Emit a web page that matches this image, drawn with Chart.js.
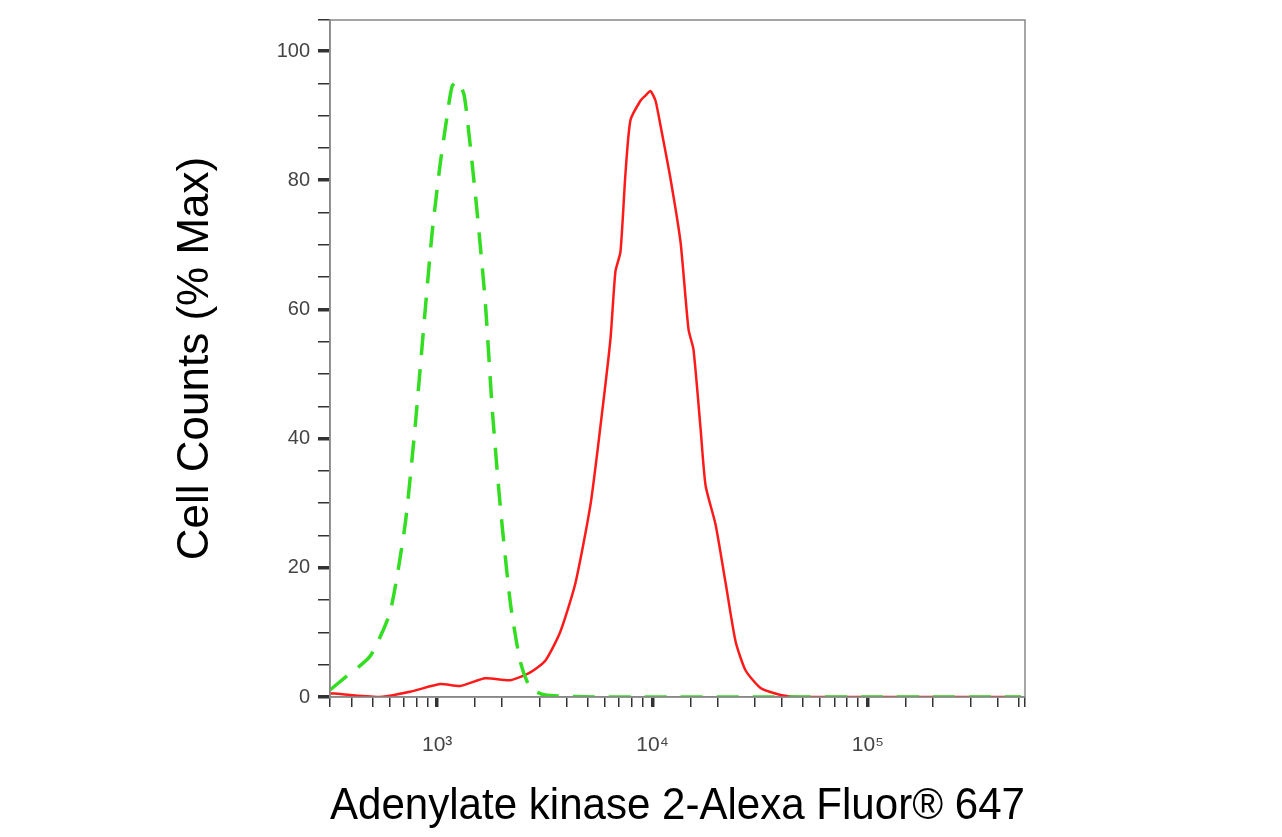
<!DOCTYPE html>
<html>
<head>
<meta charset="utf-8">
<script src="https://cdn.jsdelivr.net/npm/chart.js@4"></script>
<style>
  html, body { margin: 0; padding: 0; background: #fff; }
  #wrap { width: 1282px; height: 837px; }
</style>
</head>
<body>
<div id="wrap"><canvas id="histChart"></canvas></div>
<script>
// Fluorescence intensity (x) and % max counts (y)
const redX = [318, 394, 543, 748, 1033, 1280, 1672, 2187, 2708, 3178, 3733, 4385, 5150, 5728, 6380, 6730, 7100, 7490, 7900, 8790, 9270, 9790, 10330, 10890, 12130, 13500, 14700, 15500, 16700, 17650, 19630, 21870, 24320, 27080, 31780, 39360, 48750, 515000];
const redY = [0.6, 0.3, 0, 0.8, 2.0, 1.7, 2.9, 2.6, 3.8, 5.6, 10.1, 17.6, 29.7, 41.8, 55.4, 65.9, 68.9, 81.0, 89.3, 92.3, 93.1, 93.8, 92.3, 88.5, 80.2, 70.4, 56.9, 53.8, 41.8, 32.7, 26.7, 17.6, 8.6, 4.1, 1.4, 0.3, 0, 0];

const greenX = [318, 373, 488, 604, 710, 790, 880, 948, 1033, 1113, 1175, 1252, 1336, 1423, 1535, 1672, 1802, 1963, 2187, 2432, 2708, 3178, 5728, 515000];
const greenY = [1.1, 3.0, 6.3, 13.1, 26.7, 41.8, 59.9, 71.9, 82.5, 90.0, 94.6, 95.3, 93.1, 85.5, 74.9, 61.3, 44.6, 29.6, 14.6, 5.5, 1.4, 0.3, 0, 0];

const xMin = 318, xMax = 537000;
const yMin = 0, yMax = 104.8;
const sup = { "2": "²", "3": "³", "4": "⁴", "5": "⁵" };

function toPoints(xs, ys) {
  return xs.map((x, i) => ({ x: x, y: ys[i] }));
}

function isPow10(v) {
  const l = Math.log10(v);
  return Math.abs(l - Math.round(l)) < 1e-9;
}

// frame around the plot area
const framePlugin = {
  id: "frame",
  afterDraw(chart) {
    const a = chart.chartArea;
    const ctx = chart.ctx;
    ctx.save();
    ctx.strokeStyle = "#888";
    ctx.lineWidth = 1.5;
    ctx.strokeRect(a.left, a.top, a.right - a.left, a.bottom - a.top);
    ctx.restore();
  },
};

new Chart(document.getElementById("histChart"), {
  type: "line",
  data: {
    datasets: [
      {
        data: toPoints(greenX, greenY),
        borderColor: "#33dd22",
        borderWidth: 3.5,
        borderDash: [22, 14],
        pointRadius: 0,
        tension: 0.2,
      },
      {
        data: toPoints(redX, redY),
        borderColor: "#ff1a1a",
        borderWidth: 2.5,
        pointRadius: 0,
        tension: 0.2,
      },
    ],
  },
  plugins: [framePlugin],
  options: {
    responsive: true,
    maintainAspectRatio: false,
    animation: false,
    layout: { padding: { left: 165, right: 257, top: -10, bottom: 0 } },
    plugins: { legend: { display: false }, tooltip: { enabled: false } },
    scales: {
      x: {
        type: "logarithmic",
        min: xMin,
        max: xMax,
        afterFit: (s) => { s.height = 140; },
        grid: {
          drawOnChartArea: false,
          drawTicks: true,
          tickLength: 10,
          color: "#333",
          lineWidth: (c) => (c.tick && isPow10(c.tick.value) ? 3.5 : 1.5),
        },
        border: { display: true, color: "#888", width: 1.5 },
        ticks: {
          autoSkip: false,
          maxRotation: 0,
          padding: 26,
          color: "#444",
          font: { family: "Liberation Sans, Arial", size: 21 },
          callback: (v) => {
            if (!isPow10(v)) return "";
            const e = String(Math.round(Math.log10(v)));
            return "10" + (sup[e] || e);
          },
        },
        title: {
          display: true,
          text: "Adenylate kinase 2-Alexa Fluor® 647",
          color: "#000",
          font: { family: "Liberation Sans, Arial", size: 44 },
          padding: { top: 0 },
        },
      },
      y: {
        min: yMin,
        max: yMax,
        afterFit: (s) => { s.width = 165; },
        grid: {
          drawOnChartArea: false,
          drawTicks: true,
          tickLength: 12,
          color: "#333",
          lineWidth: (c) => (c.tick && c.tick.value % 20 === 0 ? 3.5 : 1.5),
        },
        border: { display: true, color: "#888", width: 1.5 },
        ticks: {
          stepSize: 5,
          autoSkip: false,
          padding: 8,
          color: "#444",
          font: { family: "Liberation Sans, Arial", size: 20 },
          callback: (v) => (v % 20 === 0 ? String(v) : ""),
        },
        title: {
          display: true,
          text: "Cell Counts (% Max)",
          color: "#000",
          font: { family: "Liberation Sans, Arial", size: 44 },
          padding: { bottom: 40 },
        },
      },
    },
  },
});
</script>
</body>
</html>
